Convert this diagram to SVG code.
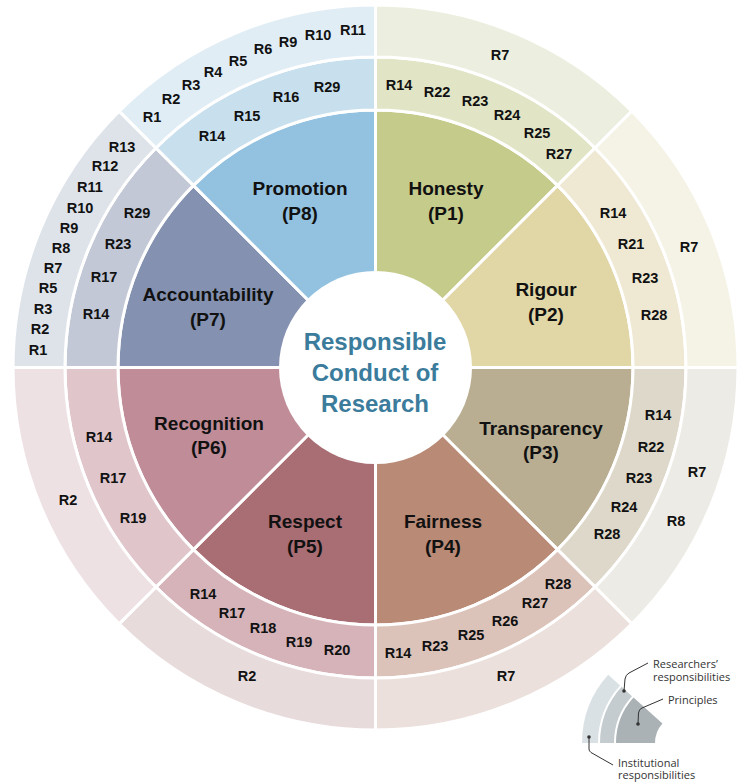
<svg xmlns="http://www.w3.org/2000/svg" xmlns:xlink="http://www.w3.org/1999/xlink" width="750" height="782" viewBox="0 0 750 782">
<style>
.seg{stroke:#fff;stroke-width:3;stroke-linejoin:miter}
.pl{font-family:"Liberation Sans",Arial,sans-serif;font-weight:bold;font-size:19px;text-anchor:middle;fill:#111}
.r{font-family:"Liberation Sans",Arial,sans-serif;font-weight:bold;font-size:14.5px;text-anchor:middle;fill:#111}
.ctr{font-family:"Liberation Sans",Arial,sans-serif;font-weight:bold;font-size:24px;text-anchor:middle;fill:#3b7c9c}
.lg{font-family:"Open Sans","Noto Sans",sans-serif;font-size:11px;fill:#333}
.lead{fill:none;stroke:#333;stroke-width:1}
</style>
<defs>
<path id="sPie" d="M375.5 367.5 L375.5 110 A257.5 257.5 0 0 1 557.58 185.42 Z"/>
<path id="sMid" d="M375.5 57 A310.5 310.5 0 0 1 595.06 147.94 L557.58 185.42 A257.5 257.5 0 0 0 375.5 110 Z"/>
<path id="sOut" d="M375.5 5 A362.5 362.5 0 0 1 631.83 111.17 L595.06 147.94 A310.5 310.5 0 0 0 375.5 57 Z"/>
</defs>

<g id="p1-honesty">
<use xlink:href="#sPie" class="seg" fill="#c5cb8b"/>
<use xlink:href="#sMid" class="seg" fill="#e1e5c5"/>
<use xlink:href="#sOut" class="seg" fill="#ecefdf"/>
<text class="pl" x="446" y="195">Honesty</text>
<text class="pl" x="446" y="220">(P1)</text>
<text class="r" x="399" y="90">R14</text>
<text class="r" x="437" y="97">R22</text>
<text class="r" x="475" y="106">R23</text>
<text class="r" x="507" y="120">R24</text>
<text class="r" x="537" y="138">R25</text>
<text class="r" x="559" y="159">R27</text>
<text class="r" x="500" y="60">R7</text>
</g>

<g id="p2-rigour">
<use xlink:href="#sPie" class="seg" fill="#e1d6a6" transform="rotate(45 375.5 367.5)"/>
<use xlink:href="#sMid" class="seg" fill="#efe8d2" transform="rotate(45 375.5 367.5)"/>
<use xlink:href="#sOut" class="seg" fill="#f5f3e6" transform="rotate(45 375.5 367.5)"/>
<text class="pl" x="546" y="296">Rigour</text>
<text class="pl" x="546" y="321">(P2)</text>
<text class="r" x="613" y="218">R14</text>
<text class="r" x="631" y="249">R21</text>
<text class="r" x="645" y="283">R23</text>
<text class="r" x="654" y="320">R28</text>
<text class="r" x="689" y="252">R7</text>
</g>

<g id="p3-transparency">
<use xlink:href="#sPie" class="seg" fill="#b9ae91" transform="rotate(90 375.5 367.5)"/>
<use xlink:href="#sMid" class="seg" fill="#ddd8c9" transform="rotate(90 375.5 367.5)"/>
<use xlink:href="#sOut" class="seg" fill="#edebe5" transform="rotate(90 375.5 367.5)"/>
<text class="pl" x="541" y="435">Transparency</text>
<text class="pl" x="541" y="459">(P3)</text>
<text class="r" x="658" y="420">R14</text>
<text class="r" x="651" y="452">R22</text>
<text class="r" x="639" y="483">R23</text>
<text class="r" x="624" y="512">R24</text>
<text class="r" x="607" y="539">R28</text>
<text class="r" x="697" y="477">R7</text>
<text class="r" x="676" y="526">R8</text>
</g>

<g id="p4-fairness">
<use xlink:href="#sPie" class="seg" fill="#b98a76" transform="rotate(135 375.5 367.5)"/>
<use xlink:href="#sMid" class="seg" fill="#dcc3ba" transform="rotate(135 375.5 367.5)"/>
<use xlink:href="#sOut" class="seg" fill="#ebe0dc" transform="rotate(135 375.5 367.5)"/>
<text class="pl" x="443" y="528">Fairness</text>
<text class="pl" x="443" y="553">(P4)</text>
<text class="r" x="558" y="589">R28</text>
<text class="r" x="535" y="608">R27</text>
<text class="r" x="505" y="626">R26</text>
<text class="r" x="471" y="640">R25</text>
<text class="r" x="435" y="651">R23</text>
<text class="r" x="398" y="658">R14</text>
<text class="r" x="506" y="681">R7</text>
</g>

<g id="p5-respect">
<use xlink:href="#sPie" class="seg" fill="#a96d74" transform="rotate(180 375.5 367.5)"/>
<use xlink:href="#sMid" class="seg" fill="#d5b3b8" transform="rotate(180 375.5 367.5)"/>
<use xlink:href="#sOut" class="seg" fill="#e8dbdc" transform="rotate(180 375.5 367.5)"/>
<text class="pl" x="305" y="528">Respect</text>
<text class="pl" x="305" y="553">(P5)</text>
<text class="r" x="203" y="599">R14</text>
<text class="r" x="232" y="618">R17</text>
<text class="r" x="263" y="633">R18</text>
<text class="r" x="299" y="647">R19</text>
<text class="r" x="337" y="655">R20</text>
<text class="r" x="247" y="681">R2</text>
</g>

<g id="p6-recognition">
<use xlink:href="#sPie" class="seg" fill="#c08c98" transform="rotate(225 375.5 367.5)"/>
<use xlink:href="#sMid" class="seg" fill="#e0c5cb" transform="rotate(225 375.5 367.5)"/>
<use xlink:href="#sOut" class="seg" fill="#eee1e4" transform="rotate(225 375.5 367.5)"/>
<text class="pl" x="209" y="430">Recognition</text>
<text class="pl" x="209" y="454">(P6)</text>
<text class="r" x="99" y="442">R14</text>
<text class="r" x="113" y="483">R17</text>
<text class="r" x="133" y="523">R19</text>
<text class="r" x="68" y="505">R2</text>
</g>

<g id="p7-accountability">
<use xlink:href="#sPie" class="seg" fill="#8491b0" transform="rotate(270 375.5 367.5)"/>
<use xlink:href="#sMid" class="seg" fill="#c2c8d6" transform="rotate(270 375.5 367.5)"/>
<use xlink:href="#sOut" class="seg" fill="#dee3ea" transform="rotate(270 375.5 367.5)"/>
<text class="pl" x="208" y="301">Accountability</text>
<text class="pl" x="208" y="326">(P7)</text>
<text class="r" x="137" y="218">R29</text>
<text class="r" x="118" y="249">R23</text>
<text class="r" x="104" y="282">R17</text>
<text class="r" x="96" y="319">R14</text>
<text class="r" x="122" y="152">R13</text>
<text class="r" x="105" y="171">R12</text>
<text class="r" x="90" y="192">R11</text>
<text class="r" x="80" y="213">R10</text>
<text class="r" x="69" y="233">R9</text>
<text class="r" x="61" y="253">R8</text>
<text class="r" x="53" y="273">R7</text>
<text class="r" x="48" y="293">R5</text>
<text class="r" x="43" y="314">R3</text>
<text class="r" x="40" y="334">R2</text>
<text class="r" x="38" y="355">R1</text>
</g>

<g id="p8-promotion">
<use xlink:href="#sPie" class="seg" fill="#93c1e0" transform="rotate(315 375.5 367.5)"/>
<use xlink:href="#sMid" class="seg" fill="#c8dfed" transform="rotate(315 375.5 367.5)"/>
<use xlink:href="#sOut" class="seg" fill="#e1edf5" transform="rotate(315 375.5 367.5)"/>
<text class="pl" x="300" y="195">Promotion</text>
<text class="pl" x="300" y="220">(P8)</text>
<text class="r" x="212" y="141">R14</text>
<text class="r" x="247" y="121">R15</text>
<text class="r" x="286" y="102">R16</text>
<text class="r" x="327" y="92">R29</text>
<text class="r" x="152" y="122">R1</text>
<text class="r" x="171" y="104">R2</text>
<text class="r" x="191" y="90">R3</text>
<text class="r" x="213" y="77">R4</text>
<text class="r" x="238" y="66">R5</text>
<text class="r" x="263" y="54">R6</text>
<text class="r" x="288" y="47">R9</text>
<text class="r" x="318" y="40">R10</text>
<text class="r" x="353" y="35">R11</text>
</g>

<g id="center">
<circle cx="375.5" cy="367.5" r="96.5" fill="#fff"/>
<text class="ctr" x="375" y="350">Responsible</text>
<text class="ctr" x="375" y="381">Conduct of</text>
<text class="ctr" x="375" y="412">Research</text>
</g>

<g id="legend">
<path d="M582 743 A102 102 0 0 1 608.2 674.75 L620.1 685.46 A86 86 0 0 0 598 743 Z" fill="#dae1e5"/>
<path d="M600 743 A84 84 0 0 1 621.58 686.79 L631.98 696.16 A70 70 0 0 0 614 743 Z" fill="#c4ccd0"/>
<path d="M616 743 A68 68 0 0 1 633.47 697.5 L662.45 723.6 A29 29 0 0 0 655 743 Z" fill="#aab2b6"/>
<circle cx="624" cy="691" r="1.8" fill="#333"/>
<circle cx="638" cy="724" r="1.8" fill="#333"/>
<circle cx="589" cy="737" r="1.8" fill="#333"/>
<text class="lg" x="653" y="668">Researchers’</text>
<text class="lg" x="653" y="681">responsibilities</text>
<text class="lg" x="668" y="704">Principles</text>
<text class="lg" x="618" y="767">Institutional</text>
<text class="lg" x="618" y="779">responsibilities</text>
</g>

<g id="connectors">
<path class="lead" d="M624 691 L625 679 Q625.5 675 629 673 L648 663"/>
<path class="lead" d="M638 724 L638.5 713 Q639 709 642 708 L663 699"/>
<path class="lead" d="M589 737 L589 749 Q589 751 591 752.5 L613 765"/>
</g>
</svg>
